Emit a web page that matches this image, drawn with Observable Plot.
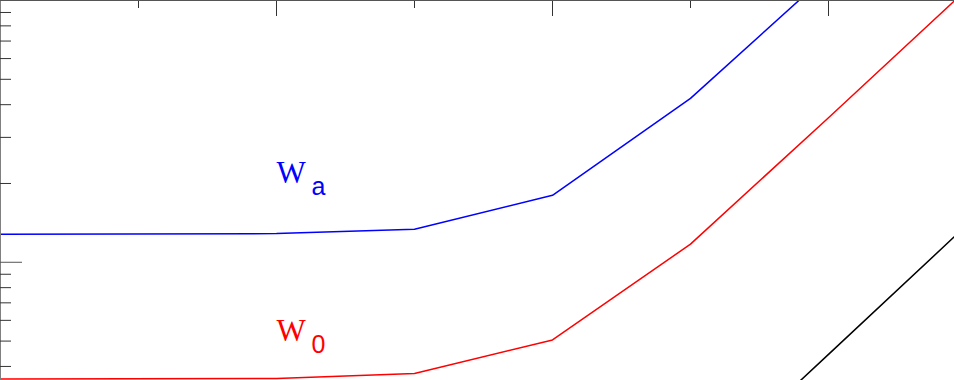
<!DOCTYPE html>
<html><head><meta charset="utf-8">
<script src="https://cdn.jsdelivr.net/npm/d3@7"></script>
<script src="https://cdn.jsdelivr.net/npm/@observablehq/plot@0.6"></script>
<style>body{margin:0;background:#fff}</style>
</head><body><div id="chart"></div>
<script>
// Series (x in tick units, y on log scale)
const xBlue = [0, 2, 3, 4, 5, 6];
const yBlue = [1.279, 1.287, 1.336, 1.802, 4.227, 12.66];
const xRed = [0, 2, 3, 4, 5, 6, 7];
const yRed = [0.3583, 0.3598, 0.3759, 0.505, 1.173, 3.567, 11.0];
const xBlack = [5, 6, 7];
const yBlack = [0.1431, 0.445, 1.383];

// Tick values
const xMinorTicks = [1, 3, 5];
const xMajorTicks = [2, 4, 6];
const yMinorTicks = [0.4, 0.5, 0.6, 0.7, 0.8, 0.9, 2, 3, 4, 5, 6, 7, 8, 9];
const yMajorTicks = [1];

// Labels
const labelMain = ["W", "W"];
const labelSub = ["a", "0"];
const labelX = [2, 2];
const labelY = [2, 0.5];
const labelColor = ["#0000ff", "#ff0000"];

const toRows = (xs, ys) => xs.map((x, i) => ({x, y: ys[i]}));
const labels = labelMain.map((t, i) => ({t, s: labelSub[i], x: labelX[i], y: labelY[i], c: labelColor[i]}));

const chart = Plot.plot({
  width: 954,
  height: 380,
  marginLeft: 0, marginRight: 0, marginTop: 0, marginBottom: 0,
  x: {type: "linear", domain: [0, 954 / 138]},
  y: {type: "log", domain: [0.3535, 10]},
  marks: [
    Plot.line(toRows(xBlue, yBlue), {x: "x", y: "y", stroke: "#0000ff", strokeWidth: 1.5, clip: true}),
    Plot.line(toRows(xRed, yRed), {x: "x", y: "y", stroke: "#ff0000", strokeWidth: 1.5, clip: true}),
    Plot.line(toRows(xBlack, yBlack), {x: "x", y: "y", stroke: "#000000", strokeWidth: 1.5, clip: true}),
    Plot.ruleX([0], {stroke: "#808080", strokeWidth: 1}),
    Plot.ruleY([10], {stroke: "#555", strokeWidth: 1}),
    Plot.axisX({anchor: "top", ticks: xMinorTicks, tickSize: -7, tickFormat: () => "", label: null, stroke: "#333"}),
    Plot.axisX({anchor: "top", ticks: xMajorTicks, tickSize: -15, tickFormat: () => "", label: null, stroke: "#333"}),
    Plot.axisY({anchor: "left", ticks: yMinorTicks, tickSize: -11, tickFormat: () => "", label: null, stroke: "#333"}),
    Plot.axisY({anchor: "left", ticks: yMajorTicks, tickSize: -22, tickFormat: () => "", label: null, stroke: "#555"}),
    Plot.text(labels, {x: "x", y: "y", text: "t", fill: "c", textAnchor: "start", lineAnchor: "bottom", fontSize: 31, fontFamily: "Liberation Serif"}),
    Plot.text(labels, {x: "x", y: "y", text: "s", fill: "c", textAnchor: "start", lineAnchor: "bottom", dx: 35, dy: 12, fontSize: 25, fontFamily: "Liberation Sans"})
  ]
});
document.getElementById("chart").appendChild(chart);
</script>
</body></html>
